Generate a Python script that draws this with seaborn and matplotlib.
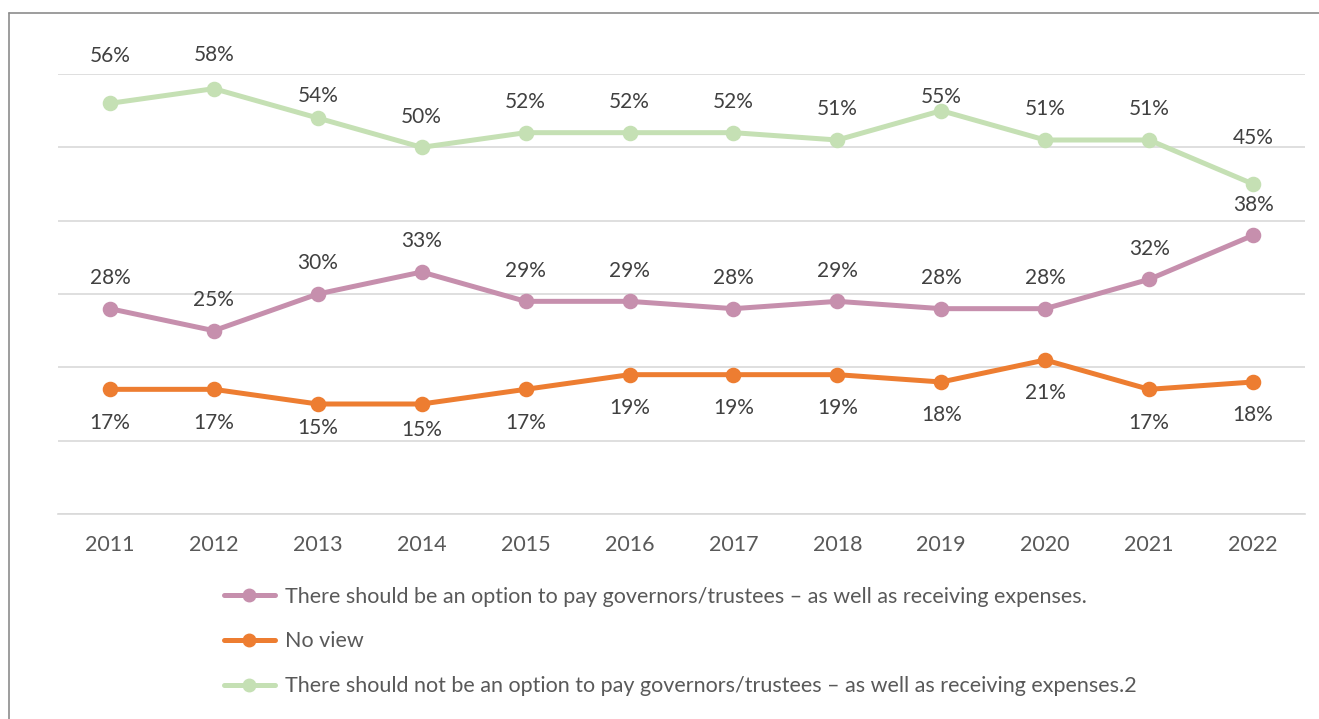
import matplotlib
matplotlib.use("Agg")
import matplotlib.pyplot as plt
from matplotlib.lines import Line2D
import seaborn as sns
import pandas as pd

years = ["2011", "2012", "2013", "2014", "2015", "2016",
         "2017", "2018", "2019", "2020", "2021", "2022"]
should_pay = [28, 25, 30, 33, 29, 29, 28, 29, 28, 28, 32, 38]
no_view = [17, 17, 15, 15, 17, 19, 19, 19, 18, 21, 17, 18]
should_not_pay = [56, 58, 54, 50, 52, 52, 52, 51, 55, 51, 51, 45]

series_names = [
    "There should be an option to pay governors/trustees \u2013 as well as receiving expenses.",
    "No view",
    "There should not be an option to pay governors/trustees \u2013 as well as receiving expenses.2",
]
series_values = [should_pay, no_view, should_not_pay]
colors = ["#C68FAD", "#ED7D31", "#C5E0B4"]

# vertical offsets (points) of each value label from its marker
pay_offsets = [22] * 12
noview_offsets = [-24, -24, -17, -19, -24, -24, -24, -24, -24, -24, -24, -24]
notpay_offsets = [34, 24, 16, 22, 22, 22, 22, 22, 10, 22, 22, 33]
label_offsets = [pay_offsets, noview_offsets, notpay_offsets]

df = pd.DataFrame({
    "year": years * 3,
    "value": should_pay + no_view + should_not_pay,
    "series": [n for n in series_names for _ in years],
})

sns.set_theme(style="white")
plt.rcParams["font.family"] = ["Lato", "DejaVu Sans"]

fig = plt.figure(figsize=(13.19, 7.19), dpi=100)
ax = fig.add_axes([58 / 1319, 1 - 514 / 719, (1305 - 58) / 1319, (514 - 74) / 719])

sns.pointplot(
    data=df, x="year", y="value", hue="series", hue_order=series_names,
    palette=colors, markers="o", linestyles="-", ax=ax,
    linewidth=3.6, markersize=8.5, errorbar=None, legend=False,
)

ax.set_xlim(-0.5, 11.5)
ax.set_ylim(0, 60)
ax.set_yticks(range(0, 61, 10))
ax.set_yticklabels([])
ax.tick_params(axis="y", length=0)
ax.grid(axis="y", color="#D9D9D9", linewidth=1.2, zorder=0)
ax.set_axisbelow(True)
for s in ("left", "right", "top"):
    ax.spines[s].set_visible(False)
ax.spines["bottom"].set_color("#D9D9D9")
ax.spines["bottom"].set_linewidth(1.2)
ax.set_xlabel("")
ax.set_ylabel("")
ax.set_xticks(range(len(years)))
ax.set_xticklabels(years, fontsize=15.5, color="#595959")
ax.set_xticks([i - 0.5 for i in range(len(years) + 1)], minor=True)
ax.tick_params(axis="x", which="major", length=0, pad=15)
ax.tick_params(axis="x", which="minor", length=5, width=1.2, color="#D9D9D9", direction="out")

for vals, offs in zip(series_values, label_offsets):
    for i, (v, o) in enumerate(zip(vals, offs)):
        ax.annotate(f"{v}%", (i, v), xytext=(0, o), textcoords="offset points",
                    ha="center", va="center", fontsize=15, color="#404040",
                    annotation_clip=False)

handles = [Line2D([0], [0], color=c, lw=3.6, marker="o", markersize=9) for c in colors]
fig.legend(handles, series_names, loc="upper left", bbox_to_anchor=(215 / 1319, 1 - 578 / 719),
           frameon=False, fontsize=15.5, labelcolor="#595959", handlelength=2.4,
           handletextpad=0.45, labelspacing=1.15, borderaxespad=0)

# outer frame
fig.add_artist(Line2D([9 / 1319, 9 / 1319], [0, 1 - 13 / 719], color="#8C8C8C", lw=1.2))
fig.add_artist(Line2D([9 / 1319, 1], [1 - 13 / 719, 1 - 13 / 719], color="#8C8C8C", lw=1.2))

fig.savefig("out.png", dpi=100)
